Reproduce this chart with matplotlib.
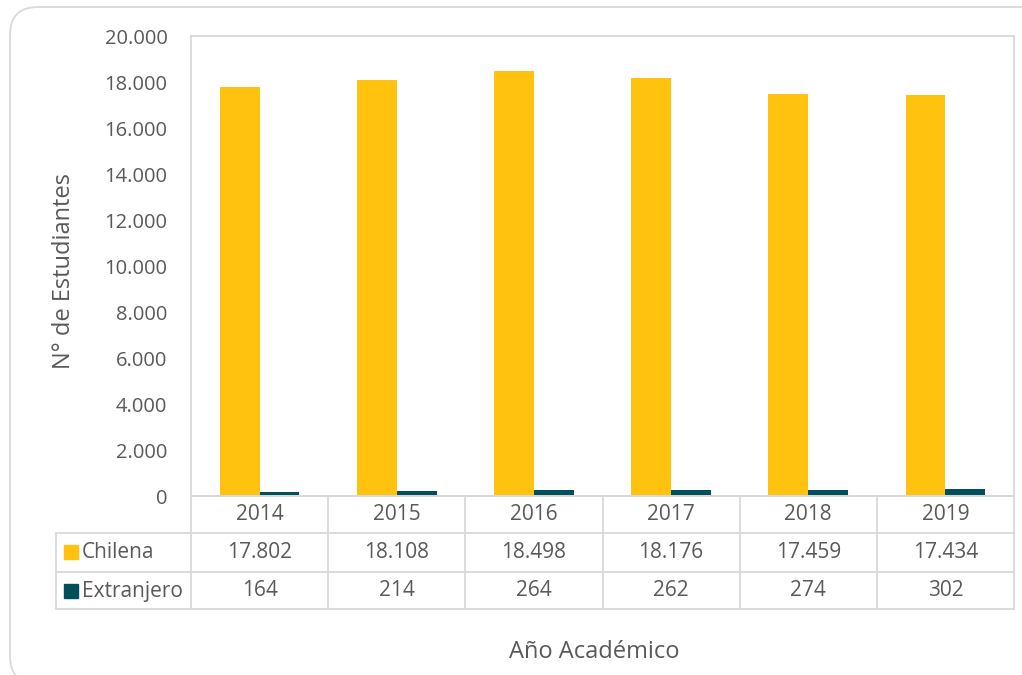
import matplotlib
matplotlib.use("Agg")
import matplotlib.pyplot as plt
from matplotlib.patches import FancyBboxPatch, Rectangle
from matplotlib.lines import Line2D
from matplotlib.ticker import FuncFormatter
import matplotlib.transforms as mtransforms

years = ["2014", "2015", "2016", "2017", "2018", "2019"]
chilena = [17802, 18108, 18498, 18176, 17459, 17434]
extranjero = [164, 214, 264, 262, 274, 302]
series_names = ["Chilena", "Extranjero"]
colors = ["#FFC20E", "#014F5A"]
y_ticks = [0, 2000, 4000, 6000, 8000, 10000, 12000, 14000, 16000, 18000, 20000]

W, H = 1022, 675
plt.rcParams['font.family'] = ['Open Sans', 'DejaVu Sans']
TXT = "#595959"
GRID = "#D9D9D9"

fig = plt.figure(figsize=(W / 100, H / 100), dpi=100)

def fx(x):
    return x / W

def fy(y):
    return (H - y) / H

# outer rounded frame (display pixel coords), extends past right and bottom edges
frame = FancyBboxPatch((10, H - 684), 1080, 677,
                       boxstyle="round,pad=0,rounding_size=28",
                       transform=mtransforms.IdentityTransform(), fill=False, ec=GRID, lw=1.3)
fig.patches.append(frame)

L, R, T, B = 191, 1014, 36, 496
ax = fig.add_axes([fx(L), fy(B), fx(R) - fx(L), fy(T) - fy(B)])

n = len(years)
x = list(range(n))
bw = 0.29
ax.bar([i - bw / 2 for i in x], chilena, width=bw, color=colors[0], zorder=2)
ax.bar([i + bw / 2 for i in x], extranjero, width=bw, color=colors[1], zorder=2)

ax.set_xlim(-0.5, n - 0.5)
ax.set_ylim(0, 20000)
ax.set_yticks(y_ticks)
ax.yaxis.set_major_formatter(FuncFormatter(lambda v, p: f"{int(v):,}".replace(",", ".")))
ax.tick_params(axis='y', length=0, pad=17, labelsize=14.5, labelcolor=TXT)
ax.set_xticks([])
for s in ax.spines.values():
    s.set_color(GRID)
    s.set_linewidth(1.3)

# data table below
blend = mtransforms.blended_transform_factory(ax.transData, fig.transFigure)
row_lines = [fy(496), fy(532.5), fy(572), fy(609)]
row_centers = [fy(515), fy(552), fy(591)]
x_left = fx(56)

lk = dict(color=GRID, lw=1.3, clip_on=False)
fig.add_artist(Line2D([fx(L), fx(R)], [row_lines[0]] * 2, transform=fig.transFigure, **lk))
for yl in row_lines[1:]:
    fig.add_artist(Line2D([x_left, fx(R)], [yl] * 2, transform=fig.transFigure, **lk))
for b in [i - 0.5 for i in range(n + 1)]:
    fig.add_artist(Line2D([b, b], [row_lines[0], row_lines[3]], transform=blend, **lk))
fig.add_artist(Line2D([x_left, x_left], [row_lines[1], row_lines[3]], transform=fig.transFigure, **lk))

fs = 15
for i, yr in enumerate(years):
    fig.text(i, row_centers[0], yr, transform=blend, ha='center', va='center', fontsize=fs, color=TXT)
    fig.text(i, row_centers[1], f"{chilena[i]:,}".replace(",", "."), transform=blend,
             ha='center', va='center', fontsize=fs, color=TXT)
    fig.text(i, row_centers[2], f"{extranjero[i]:,}".replace(",", "."), transform=blend,
             ha='center', va='center', fontsize=fs, color=TXT)

for k, name in enumerate(series_names):
    yc = row_centers[k + 1]
    sq = Rectangle((fx(64), yc - 7 / H), 14 / W, 14 / H, transform=fig.transFigure,
                   color=colors[k], clip_on=False)
    fig.patches.append(sq)
    fig.text(fx(82), yc, name, ha='left', va='center', fontsize=fs, color=TXT)

fig.text(fx(64), fy(271), "N° de Estudiantes", rotation=90, ha='center', va='center',
         fontsize=17, color=TXT)
fig.text(fx(594), fy(652), "Año Académico", ha='center', va='center', fontsize=17, color=TXT)

fig.savefig("out.png", dpi=100)
